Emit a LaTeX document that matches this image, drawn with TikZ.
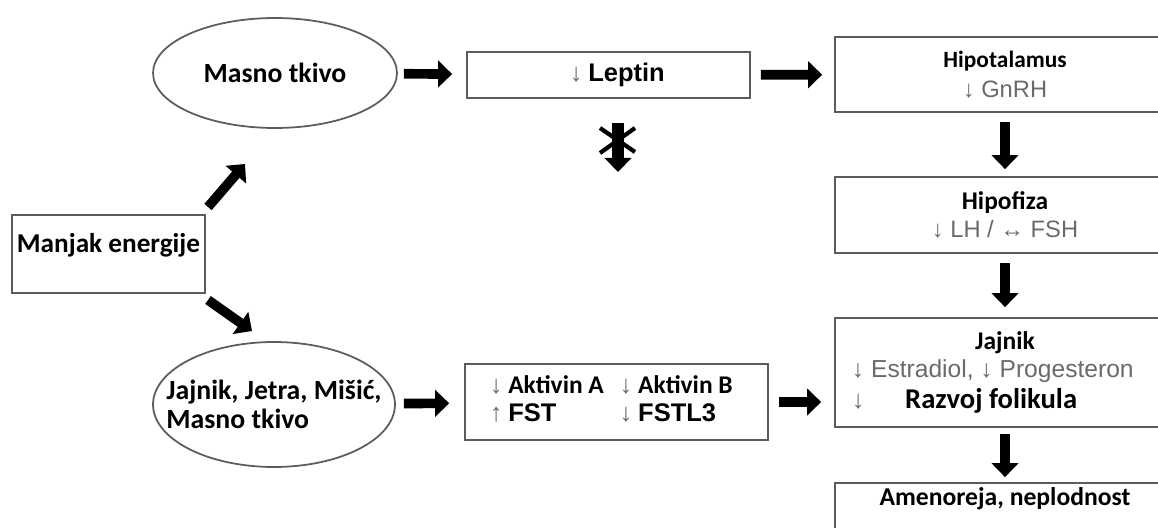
\documentclass[tikz,border=0pt]{standalone}
\usepackage{fontspec}
\setmainfont{Carlito}
\newfontfamily\arial{Liberation Sans}
\usetikzlibrary{shapes.geometric,arrows.meta}

\definecolor{edgegray}{HTML}{5C5C5C}
\definecolor{txtgray}{HTML}{6A6A6A}
\newcommand{\dn}{{\arial\mdseries\color{txtgray}↓}}
\newcommand{\upar}{{\arial\mdseries\color{txtgray}↑}}
\newcommand{\lr}{{\arial\mdseries\color{txtgray}↔}}
\newcommand{\gr}[2][13.5]{{\fontsize{#1}{16}\arial\mdseries\color{txtgray}#2}}
\newcommand{\fs}[1]{\fontsize{#1}{16}\selectfont}

\begin{document}
\begin{tikzpicture}[x=0.02cm,y=-0.02cm,
	box/.style={draw=edgegray,line width=1pt,rectangle,inner sep=0pt,align=center},
	oval/.style={draw=edgegray,line width=1pt,ellipse,inner ysep=0pt,inner xsep=-0.6cm,align=left,font=\fontsize{15.8}{16.5}\selectfont\bfseries},
	fat/.style={-{Triangle[length=8pt,width=15pt]},line width=5.5pt},
	font=\fontsize{14.5}{16}\selectfont\bfseries]
	\useasboundingbox (0,0) rectangle (1158,527);
	\clip (0,0) rectangle (1158,527);

	\node[box,minimum width=3.86cm,text height=0.74cm,text depth=0.82cm,font=\fontsize{15.5}{19}\selectfont\bfseries] (energy) at (108.5,254) {Manjak energije};

	\node[oval,minimum width=4.88cm,minimum height=2.2cm] (fat1) at (275,73) {Masno tkivo};
	\node[oval,minimum width=4.84cm,minimum height=2.5cm] (organs) at (274,404.5) {Jajnik, Jetra, Mišić,\\Masno tkivo};

	\node[box,minimum width=5.66cm,minimum height=0.92cm] (leptin) at (608.5,75) {\hspace{10pt}\dn\ {\arial Leptin}};
	\node[box,minimum width=6.06cm,minimum height=1.52cm] (activin) at (616.5,402)
		{\raisebox{-5pt}{\begin{tabular}{@{}l@{\hspace{9pt}}l@{}}
			\dn\ Aktivin A & \dn\ Aktivin B\\[0pt]
			\upar\ {\arial FST} & \dn\ {\arial FSTL3}
		\end{tabular}}\hspace{6pt}};

	% right column, cut off by the frame
	\node[box,minimum width=6.8cm,minimum height=1.5cm] (hypo) at (1005,74.5) {\fs{13.3}Hipotalamus\\[1pt]\gr{\dn\ GnRH}};
	\node[box,minimum width=6.8cm,minimum height=1.52cm] (pit) at (1005,215) {Hipofiza\\[0pt]\gr{\dn\ LH / \lr\ FSH}};
	\node[box,minimum width=6.8cm,minimum height=2.18cm] (ovary) at (1005,372.5)
		{Jajnik\\[0pt]\makebox[6.6cm][l]{\hspace{6.8pt}\gr[14]{\dn\ Estradiol, \dn\ Progesteron}}\\[1.5pt]
		\makebox[6.6cm][l]{\hspace{6.8pt}\dn\hspace{23pt}{\fs{16.3}Razvoj folikula}}};
	\node[box,minimum width=6.8cm,minimum height=1.54cm] (outcome) at (1005,521.5) {\fs{14.6}Amenoreja, neplodnost\\[12pt]~};

	% free ends of the two side arrows
	\coordinate (upA) at (208,207);
	\coordinate (upB) at (245,164);
	\coordinate (dnA) at (208,300);
	\coordinate (dnB) at (252,331);

	\path[fat]
	(upA) edge (upB)
	(dnA) edge (dnB)

	(fat1) edge[shorten <=0.12cm,shorten >=0.28cm] (leptin)
	(leptin) edge[shorten <=0.2cm,shorten >=0.24cm] (hypo)

	(organs) edge[shorten <=0.16cm,shorten >=0.3cm] (activin)
	(activin.east) edge[shorten <=0.2cm,shorten >=0.26cm] (activin.east -| ovary.west)

	(hypo) edge[shorten <=0.18cm,shorten >=0.14cm] (pit)
	(pit) edge[shorten <=0.18cm,shorten >=0.2cm] (ovary)
	(ovary) edge[shorten <=0.12cm,shorten >=0.1cm] (outcome);

	% blocked signal
	\coordinate (block) at (618,140);
	\draw[-{Triangle[length=8pt,width=15pt]},line width=6.5pt] ([shift={(0,-17)}]block) -- ([shift={(0,32)}]block);
	\draw[line width=2.4pt] ([shift={(-18,-12)}]block) -- ([shift={(17,12)}]block)
		([shift={(17,-12)}]block) -- ([shift={(-18,13)}]block);
\end{tikzpicture}
\end{document}
